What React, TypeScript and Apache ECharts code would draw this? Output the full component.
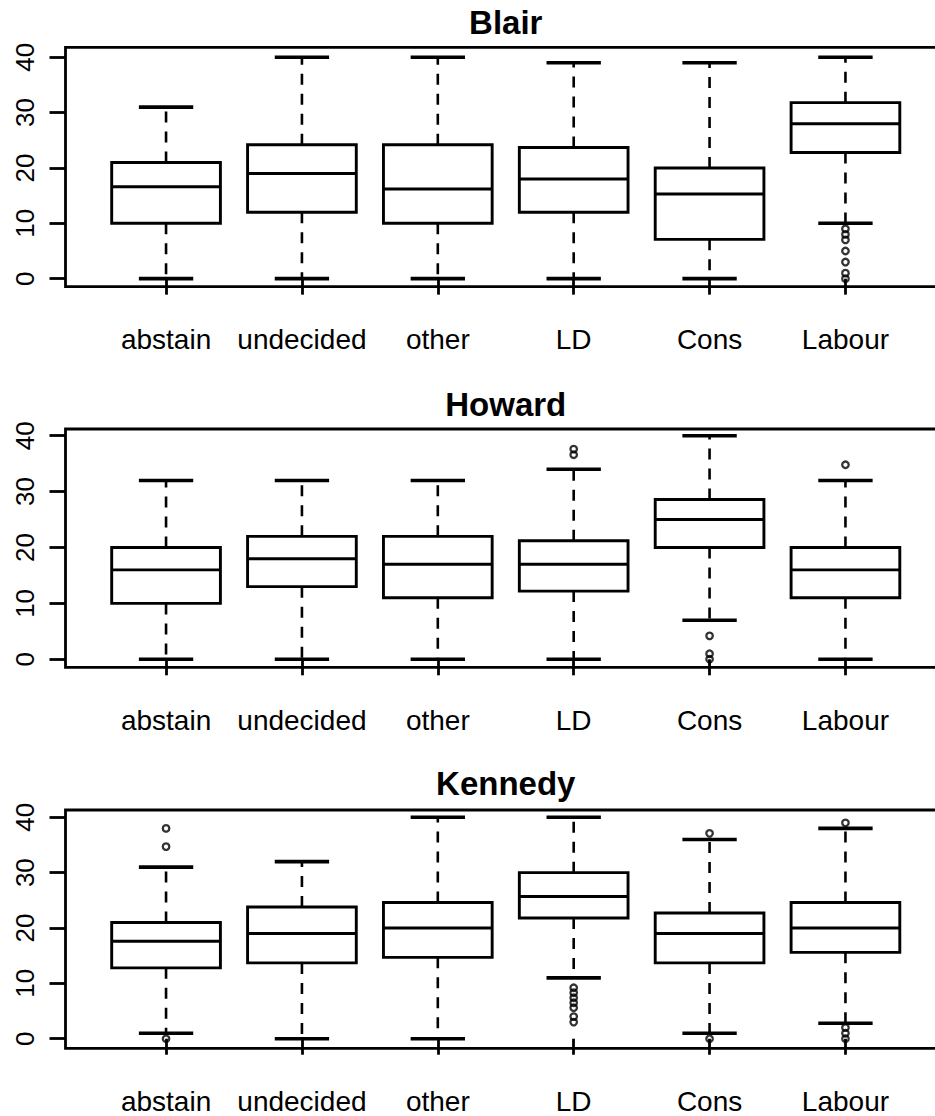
import React, { useEffect, useRef } from "react";
import * as echarts from "echarts";

// ---------- data ----------
const CATEGORIES = ["abstain", "undecided", "other", "LD", "Cons", "Labour"];
const Y_TICKS = [0, 10, 20, 30, 40];
const X_TICKS = [1, 2, 3, 4, 5, 6];
const PANEL_TITLES = ["Blair", "Howard", "Kennedy"];

// [lower whisker, Q1, median, Q3, upper whisker] per category
const BLAIR_STATS = [
  [0, 10, 16.6, 21, 31],
  [0, 12, 19, 24.2, 40],
  [0, 10, 16.2, 24.2, 40],
  [0, 12, 18, 23.7, 39],
  [0, 7.1, 15.3, 20, 39],
  [10, 22.8, 28, 31.8, 40],
];
const HOWARD_STATS = [
  [0, 10, 16, 20, 32],
  [0, 13, 18, 22, 32],
  [0, 11, 17, 22, 32],
  [0, 12.2, 17, 21.2, 34],
  [7, 20, 25, 28.6, 40],
  [0, 11, 16, 20, 32],
];
const KENNEDY_STATS = [
  [1, 12.8, 17.6, 21, 31],
  [0, 13.7, 19, 23.8, 32],
  [0, 14.7, 20, 24.6, 40],
  [11, 21.8, 25.7, 30, 40],
  [1, 13.7, 19, 22.7, 36],
  [2.8, 15.6, 20, 24.6, 38],
];

// outliers: [category, value]
const BLAIR_OUTLIERS: [string, number][] = [
  ["Labour", 9], ["Labour", 8], ["Labour", 7], ["Labour", 5],
  ["Labour", 3], ["Labour", 1], ["Labour", 0],
];
const HOWARD_OUTLIERS: [string, number][] = [
  ["LD", 37.6], ["LD", 36.6],
  ["Cons", 4.2], ["Cons", 1], ["Cons", 0],
  ["Labour", 34.8],
];
const KENNEDY_OUTLIERS: [string, number][] = [
  ["abstain", 38], ["abstain", 34.7], ["abstain", 0],
  ["LD", 9.2], ["LD", 8.3], ["LD", 7.4], ["LD", 6.5], ["LD", 5.6], ["LD", 4], ["LD", 3],
  ["Cons", 37.1], ["Cons", 0],
  ["Labour", 39], ["Labour", 2], ["Labour", 1], ["Labour", 0],
];

const ALL_STATS = [BLAIR_STATS, HOWARD_STATS, KENNEDY_STATS];
const ALL_OUTLIERS = [BLAIR_OUTLIERS, HOWARD_OUTLIERS, KENNEDY_OUTLIERS];

// ---------- layout ----------
const PAGE_W = 935;
const PAGE_H = 1116;
const CANVAS_W = 980; // plot region runs past the right edge of the picture
const PANELS = [
  { top: 47.3, height: 239.4, yMin: -1.45, yMax: 41.8, titleTop: 6 },
  { top: 429, height: 238.3, yMin: -1.43, yMax: 41.2, titleTop: 388 },
  { top: 810, height: 238.3, yMin: -1.73, yMax: 41.32, titleTop: 767 },
];
const GRID_LEFT = 65.5;
const GRID_WIDTH = 880.5;
const X_MIN = 0.26;
const X_MAX = 6.74;
const BOX_HALF = 0.4;
const CAP_HALF = 0.2;
const FONT = "'Liberation Sans', Arial, Helvetica, sans-serif";

function buildOption() {
  const grid: any[] = [];
  const xAxis: any[] = [];
  const yAxis: any[] = [];
  const series: any[] = [];
  const title: any[] = [];

  PANELS.forEach((p, i) => {
    grid.push({
      left: GRID_LEFT,
      top: p.top,
      width: GRID_WIDTH,
      height: p.height,
      show: true,
      borderColor: "#000",
      borderWidth: 2.8,
      backgroundColor: "transparent",
    });
    title.push({
      text: PANEL_TITLES[i],
      left: GRID_LEFT + GRID_WIDTH / 2,
      top: p.titleTop,
      textAlign: "center",
      padding: 0,
      textStyle: { fontFamily: FONT, fontWeight: "bold", fontSize: 33, color: "#000" },
    });
    xAxis.push({
      type: "value",
      gridIndex: i,
      min: X_MIN,
      max: X_MAX,
      axisLine: { show: false },
      splitLine: { show: false },
      axisTick: {
        show: true,
        customValues: X_TICKS,
        length: 16,
        lineStyle: { color: "#000", width: 2.8 },
      },
      axisLabel: {
        show: true,
        customValues: X_TICKS,
        formatter: (v: number) => CATEGORIES[Math.round(v) - 1] ?? "",
        margin: 39,
        fontFamily: FONT,
        fontSize: 28,
        color: "#000",
      },
    });
    yAxis.push({
      type: "value",
      gridIndex: i,
      min: p.yMin,
      max: p.yMax,
      axisLine: { show: false },
      splitLine: { show: false },
      axisTick: {
        show: true,
        customValues: Y_TICKS,
        length: 16,
        lineStyle: { color: "#000", width: 2.8 },
      },
      axisLabel: {
        show: true,
        customValues: Y_TICKS,
        rotate: 90,
        margin: 28,
        fontFamily: FONT,
        fontSize: 26,
        color: "#000",
      },
    });

    const stats = ALL_STATS[i];
    series.push({
      type: "custom",
      xAxisIndex: i,
      yAxisIndex: i,
      encode: { x: 0, y: [1, 2, 3, 4, 5] },
      data: stats.map((s, j) => [j + 1, ...s]),
      renderItem: (params: any, api: any) => {
        const x = api.value(0);
        const lo = api.value(1);
        const q1 = api.value(2);
        const med = api.value(3);
        const q3 = api.value(4);
        const hi = api.value(5);
        const c = (xx: number, yy: number) => api.coord([xx, yy]);
        const tl = c(x - BOX_HALF, q3);
        const br = c(x + BOX_HALF, q1);
        const mL = c(x - BOX_HALF, med);
        const mR = c(x + BOX_HALF, med);
        const top = c(x, q3);
        const bot = c(x, q1);
        const hiP = c(x, hi);
        const loP = c(x, lo);
        const capHiL = c(x - CAP_HALF, hi);
        const capHiR = c(x + CAP_HALF, hi);
        const capLoL = c(x - CAP_HALF, lo);
        const capLoR = c(x + CAP_HALF, lo);
        const dash = { stroke: "#000", lineWidth: 2.6, lineDash: [11, 9], fill: null };
        const solid = (w: number) => ({ stroke: "#000", lineWidth: w, fill: null });
        return {
          type: "group",
          children: [
            { type: "line", shape: { x1: top[0], y1: top[1], x2: hiP[0], y2: hiP[1] }, style: dash },
            { type: "line", shape: { x1: bot[0], y1: bot[1], x2: loP[0], y2: loP[1] }, style: dash },
            { type: "line", shape: { x1: capHiL[0], y1: capHiL[1], x2: capHiR[0], y2: capHiR[1] }, style: solid(3.6) },
            { type: "line", shape: { x1: capLoL[0], y1: capLoL[1], x2: capLoR[0], y2: capLoR[1] }, style: solid(3.6) },
            {
              type: "rect",
              shape: { x: tl[0], y: tl[1], width: br[0] - tl[0], height: br[1] - tl[1] },
              style: { stroke: "#000", lineWidth: 2.9, fill: "none" },
            },
            { type: "line", shape: { x1: mL[0], y1: mL[1], x2: mR[0], y2: mR[1] }, style: solid(2.9) },
          ],
        };
      },
      silent: true,
      z: 3,
    });

    series.push({
      type: "scatter",
      xAxisIndex: i,
      yAxisIndex: i,
      symbol: "circle",
      symbolSize: 6.5,
      itemStyle: { color: "transparent", borderColor: "#000", borderWidth: 2.3 },
      data: ALL_OUTLIERS[i].map(([cat, v]) => [CATEGORIES.indexOf(cat) + 1, v]),
      silent: true,
      z: 4,
    });
  });

  return {
    animation: false,
    backgroundColor: "#fff",
    title,
    grid,
    xAxis,
    yAxis,
    series,
  };
}

export default function App() {
  const ref = useRef<HTMLDivElement>(null);
  useEffect(() => {
    if (!ref.current) return;
    const chart = echarts.init(ref.current, undefined, { renderer: "svg" });
    chart.setOption(buildOption() as any);
    return () => chart.dispose();
  }, []);
  return (
    <div
      style={{
        position: "absolute",
        left: 0,
        top: 0,
        width: PAGE_W,
        height: PAGE_H,
        overflow: "hidden",
        background: "#fff",
      }}
    >
      <div ref={ref} style={{ width: CANVAS_W, height: PAGE_H }} />
    </div>
  );
}
